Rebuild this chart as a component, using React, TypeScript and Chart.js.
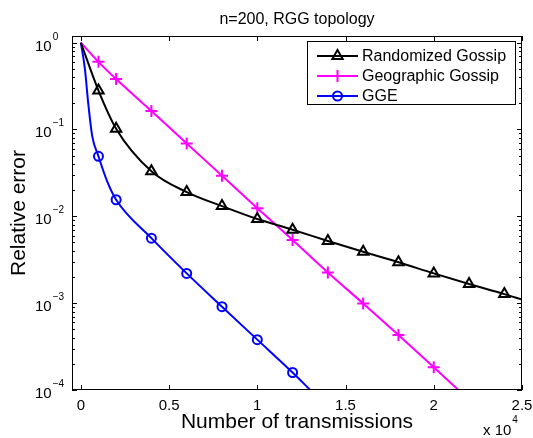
import React, { useEffect, useRef } from 'react';
import { Chart, registerables } from 'chart.js';

Chart.register(...registerables);

// ---- data ----
const titleText = 'n=200, RGG topology';
const xTitle = 'Number of transmissions';
const yTitle = 'Relative error';
const seriesNames = ['Randomized Gossip', 'Geographic Gossip', 'GGE'];

const xTicks = [0, 5000, 10000, 15000, 20000, 25000];
const xTickLabels = ['0', '0.5', '1', '1.5', '2', '2.5'];
const yDecades = [0, -1, -2, -3, -4];

const rgX = [0, 1000, 2000, 4000, 6000, 8000, 10000, 12000, 14000, 16000, 18000, 20000, 22000, 24000, 25000];
const rgY = [1, 0.28, 0.102, 0.033, 0.019, 0.0131, 0.0093, 0.007, 0.0052, 0.0039, 0.00296, 0.0022, 0.00166, 0.00127, 0.0011];
const rgMarks = [1000, 2000, 4000, 6000, 8000, 10000, 12000, 14000, 16000, 18000, 20000, 22000, 24000];

const ggX = [0, 1000, 2000, 4000, 6000, 8000, 10000, 12000, 14000, 16000, 18000, 20000, 21400];
const ggY = [1, 0.6, 0.38, 0.163, 0.069, 0.0293, 0.0124, 0.00534, 0.00226, 0.00099, 0.00043, 0.000183, 0.0001];
const ggMarks = [1000, 2000, 4000, 6000, 8000, 10000, 12000, 14000, 16000, 18000, 20000];

const ggeX = [0, 230, 420, 640, 1000, 1500, 2000, 4000, 6000, 8000, 10000, 12000, 13000];
const ggeY = [1, 0.5, 0.2, 0.085, 0.049, 0.025, 0.0155, 0.0056, 0.0022, 0.00091, 0.00038, 0.000159, 0.0001];
const ggeMarks = [1000, 2000, 4000, 6000, 8000, 10000, 12000];

const FONT = '"Liberation Sans", Arial, Helvetica, sans-serif';

function mk(xs: number[], ys: number[]) {
  return xs.map((x, i) => ({ x, y: ys[i] }));
}

function drawMarker(ctx: CanvasRenderingContext2D, kind: string, x: number, y: number, color: string) {
  ctx.save();
  ctx.strokeStyle = color;
  ctx.beginPath();
  if (kind === 'triangle') {
    ctx.lineWidth = 2;
    const r = 6;
    ctx.moveTo(x, y - r);
    ctx.lineTo(x + r * 0.866, y + r * 0.5);
    ctx.lineTo(x - r * 0.866, y + r * 0.5);
    ctx.closePath();
  } else if (kind === 'cross') {
    ctx.lineWidth = 2;
    const r = 6;
    ctx.moveTo(x - r, y);
    ctx.lineTo(x + r, y);
    ctx.moveTo(x, y - r);
    ctx.lineTo(x, y + r);
  } else {
    ctx.lineWidth = 2;
    ctx.arc(x, y, 4.5, 0, Math.PI * 2);
  }
  ctx.stroke();
  ctx.restore();
}

export default function App() {
  const ref = useRef<HTMLCanvasElement>(null);

  useEffect(() => {
    const canvas = ref.current;
    if (!canvas) return;

    const frame = {
      id: 'matlabFrame',
      afterDraw(chart: any) {
        const ctx: CanvasRenderingContext2D = chart.ctx;
        const a = chart.chartArea;
        const xs = chart.scales.x;
        const ys = chart.scales.y;
        ctx.save();
        ctx.strokeStyle = '#000';
        ctx.fillStyle = '#000';
        ctx.lineWidth = 1;

        // ticks (inside)
        ctx.beginPath();
        for (const t of xTicks) {
          const px = Math.round(xs.getPixelForValue(t)) + 0.5;
          ctx.moveTo(px, a.bottom);
          ctx.lineTo(px, a.bottom - 5);
          ctx.moveTo(px, a.top);
          ctx.lineTo(px, a.top + 5);
        }
        for (const d of yDecades) {
          for (let m = 1; m <= 9; m++) {
            const v = m * Math.pow(10, d);
            if (v > ys.max || v < ys.min) continue;
            const len = m === 1 ? 5 : 3;
            const py = Math.round(ys.getPixelForValue(v)) + 0.5;
            ctx.moveTo(a.left, py);
            ctx.lineTo(a.left + len, py);
            ctx.moveTo(a.right, py);
            ctx.lineTo(a.right - len, py);
          }
        }
        ctx.stroke();

        // box
        ctx.strokeRect(a.left + 0.5, a.top + 0.5, a.right - a.left - 1, a.bottom - a.top - 1);

        // x tick labels
        ctx.font = '15px ' + FONT;
        ctx.textAlign = 'center';
        ctx.textBaseline = 'alphabetic';
        xTicks.forEach((t, i) => {
          ctx.fillText(xTickLabels[i], xs.getPixelForValue(t), 410);
        });

        // y tick labels 10^k
        ctx.textAlign = 'left';
        for (const d of yDecades) {
          const py = ys.getPixelForValue(Math.pow(10, d));
          ctx.font = '15px ' + FONT;
          ctx.fillText('10', 35, py + 8);
          const w = ctx.measureText('10').width;
          ctx.font = '10px ' + FONT;
          ctx.fillText(d === 0 ? '0' : '\u2212' + Math.abs(d), 35 + w + 1, py - 3);
        }

        // x 10^4 multiplier
        ctx.font = '15px ' + FONT;
        ctx.fillText('x 10', 483, 435);
        const wm = ctx.measureText('x 10').width;
        ctx.font = '10px ' + FONT;
        ctx.fillText('4', 483 + wm + 1, 423);

        // axis titles
        const cx = (a.left + a.right) / 2;
        const cy = (a.top + a.bottom) / 2;
        ctx.font = '21px ' + FONT;
        ctx.textAlign = 'center';
        ctx.fillText(xTitle, cx, 428);
        ctx.save();
        ctx.translate(25, cy);
        ctx.rotate(-Math.PI / 2);
        ctx.fillText(yTitle, 0, 0);
        ctx.restore();

        // title
        ctx.font = '16px ' + FONT;
        ctx.fillText(titleText, cx, 24);

        // legend
        const lx = 307.5, ly = 41.5, lw = 208, lh = 63;
        ctx.fillStyle = '#fff';
        ctx.fillRect(lx, ly, lw, lh);
        ctx.strokeStyle = '#000';
        ctx.lineWidth = 1;
        ctx.strokeRect(lx, ly, lw, lh);
        const colors = ['#000000', '#ff00ff', '#0000ff'];
        const kinds = ['triangle', 'cross', 'circle'];
        const rows = [56, 76, 96];
        ctx.font = '16px ' + FONT;
        ctx.textAlign = 'left';
        ctx.textBaseline = 'middle';
        for (let i = 0; i < 3; i++) {
          ctx.strokeStyle = colors[i];
          ctx.lineWidth = 2;
          ctx.beginPath();
          ctx.moveTo(317, rows[i]);
          ctx.lineTo(358, rows[i]);
          ctx.stroke();
          drawMarker(ctx, kinds[i], 337.5, rows[i], colors[i]);
          ctx.fillStyle = '#000';
          ctx.fillText(seriesNames[i], 362, rows[i] + 1);
        }
        ctx.restore();
      },
    };

    const radiusFor = (marks: number[], r: number) => (c: any) =>
      c.raw && marks.includes(c.raw.x) ? r : 0;

    const chart = new Chart(canvas, {
      type: 'line',
      data: {
        datasets: [
          {
            label: seriesNames[0],
            data: mk(rgX, rgY),
            borderColor: '#000000',
            borderWidth: 2,
            pointStyle: 'triangle',
            pointRadius: radiusFor(rgMarks, 6),
            pointBorderColor: '#000000',
            pointBackgroundColor: 'rgba(0,0,0,0)',
            pointBorderWidth: 2,
            fill: false,
          },
          {
            label: seriesNames[1],
            data: mk(ggX, ggY),
            borderColor: '#ff00ff',
            borderWidth: 2,
            pointStyle: 'cross',
            pointRadius: radiusFor(ggMarks, 6),
            pointBorderColor: '#ff00ff',
            pointBackgroundColor: 'rgba(0,0,0,0)',
            pointBorderWidth: 2,
            fill: false,
          },
          {
            label: seriesNames[2],
            data: mk(ggeX, ggeY),
            borderColor: '#0000ff',
            borderWidth: 2,
            pointStyle: 'circle',
            pointRadius: radiusFor(ggeMarks, 4.5),
            pointBorderColor: '#0000ff',
            pointBackgroundColor: 'rgba(0,0,0,0)',
            pointBorderWidth: 2,
            fill: false,
          },
        ],
      },
      options: {
        animation: false,
        responsive: false,
        devicePixelRatio: 1,
        layout: { padding: { left: 72, right: 11, top: 36, bottom: 48 } },
        elements: { line: { cubicInterpolationMode: 'monotone' } },
        scales: {
          x: { type: 'linear', display: false, min: -500, max: 25000 },
          y: { type: 'logarithmic', display: false, min: 1e-4, max: 1.19 },
        },
        plugins: {
          legend: { display: false },
          tooltip: { enabled: false },
          title: { display: false },
        },
      },
      plugins: [frame],
    });

    return () => chart.destroy();
  }, []);

  return (
    <div style={{ position: 'absolute', left: 0, top: 0, width: 533, height: 438, background: '#fff' }}>
      <canvas ref={ref} width={533} height={438} style={{ display: 'block' }} />
    </div>
  );
}
